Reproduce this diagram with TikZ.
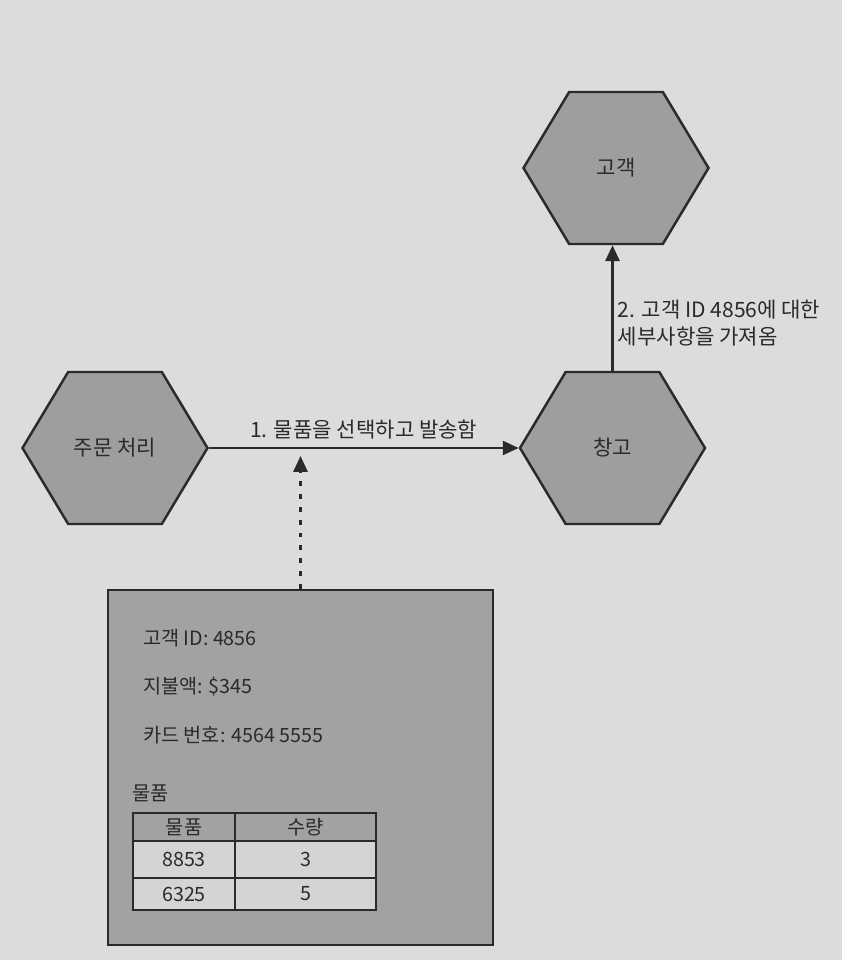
\documentclass[tikz,border=0pt]{standalone}
\usepackage{fontspec}
\setmainfont{Noto Sans CJK KR}
\usetikzlibrary{arrows.meta,shapes.symbols}
\definecolor{page}{HTML}{DCDCDA}
\definecolor{hexgray}{HTML}{9E9E9E}
\definecolor{boxgray}{HTML}{A2A2A2}
\definecolor{rowgray}{HTML}{D4D4D2}
\definecolor{ink}{HTML}{2A2A2A}
\tikzset{
  hexbox/.style={signal,signal to=east and west,signal pointer angle=118,
    minimum width=3.7cm,minimum height=3.04cm,inner sep=0pt,
    fill=hexgray,draw=ink,line width=1.4pt},
  flow/.style={draw=ink,line width=1.4pt,-{Triangle[width=8pt,length=9pt]}},
  dotflow/.style={draw=ink,line width=1.4pt,dash pattern=on 2.8pt off 4.5pt,
    -{Triangle[width=8pt,length=9pt]}},
  cellbox/.style={draw=ink,line width=1.4pt},
  msgtext/.style={font=\fontsize{11.2}{15}\selectfont},
}
\begin{document}
\begin{tikzpicture}[font=\fontsize{12}{15.5}\selectfont,text=ink]
\fill[page] (0,0) rectangle (16.84,19.2);
\useasboundingbox (0,0) rectangle (16.84,19.2);
% services
\node[hexbox] (order) at (2.30,10.24) {주문 처리};
\node[hexbox] (store) at (12.25,10.24) {창고};
\node[hexbox] (cust) at (12.32,15.84) {고객};
\draw[flow] (order.east) -- node[above=1pt] (lblship) {1. 물품을 선택하고 발송함} (store.west);
\draw[flow] (store.north) -- node[right=-1pt,pos=.38,align=left] (lblfetch) {2. 고객 ID 4856에 대한\\세부사항을 가져옴} (store.north |- cust.south);
% message
\node[fill=boxgray,draw=ink,line width=1.4pt,minimum width=7.7cm,minimum height=7.1cm] (msg) at (6.01,3.85) {};
\coordinate (msgin) at (6.01,10.08);
\draw[dotflow] (msg.north) -- (msgin);
\node[msgtext,anchor=west] (custid) at (2.74,6.44) {고객 ID: 4856};
\node[msgtext,anchor=west] (paid) at (2.74,5.48) {지불액: \$345};
\node[msgtext,anchor=west] (card) at (2.74,4.50) {카드 번호: 4564 5555};
\node[msgtext,anchor=west] (items) at (2.52,3.34) {물품};
% item table
\path[cellbox,fill=boxgray] (2.66,2.38) rectangle (4.70,2.94);
\path[cellbox,fill=boxgray] (4.70,2.38) rectangle (7.52,2.94);
\path[cellbox,fill=rowgray] (2.66,1.64) rectangle (4.70,2.38);
\path[cellbox,fill=rowgray] (4.70,1.64) rectangle (7.52,2.38);
\path[cellbox,fill=rowgray] (2.66,1.00) rectangle (4.70,1.64);
\path[cellbox,fill=rowgray] (4.70,1.00) rectangle (7.52,1.64);
\node[msgtext] (hditem) at (3.68,2.66) {물품};
\node[msgtext] (hdqty) at (6.11,2.66) {수량};
\node[msgtext] (itema) at (3.68,2.01) {8853};
\node[msgtext] (qtya) at (6.11,2.01) {3};
\node[msgtext] (itemb) at (3.68,1.32) {6325};
\node[msgtext] (qtyb) at (6.11,1.32) {5};
\end{tikzpicture}
\end{document}
